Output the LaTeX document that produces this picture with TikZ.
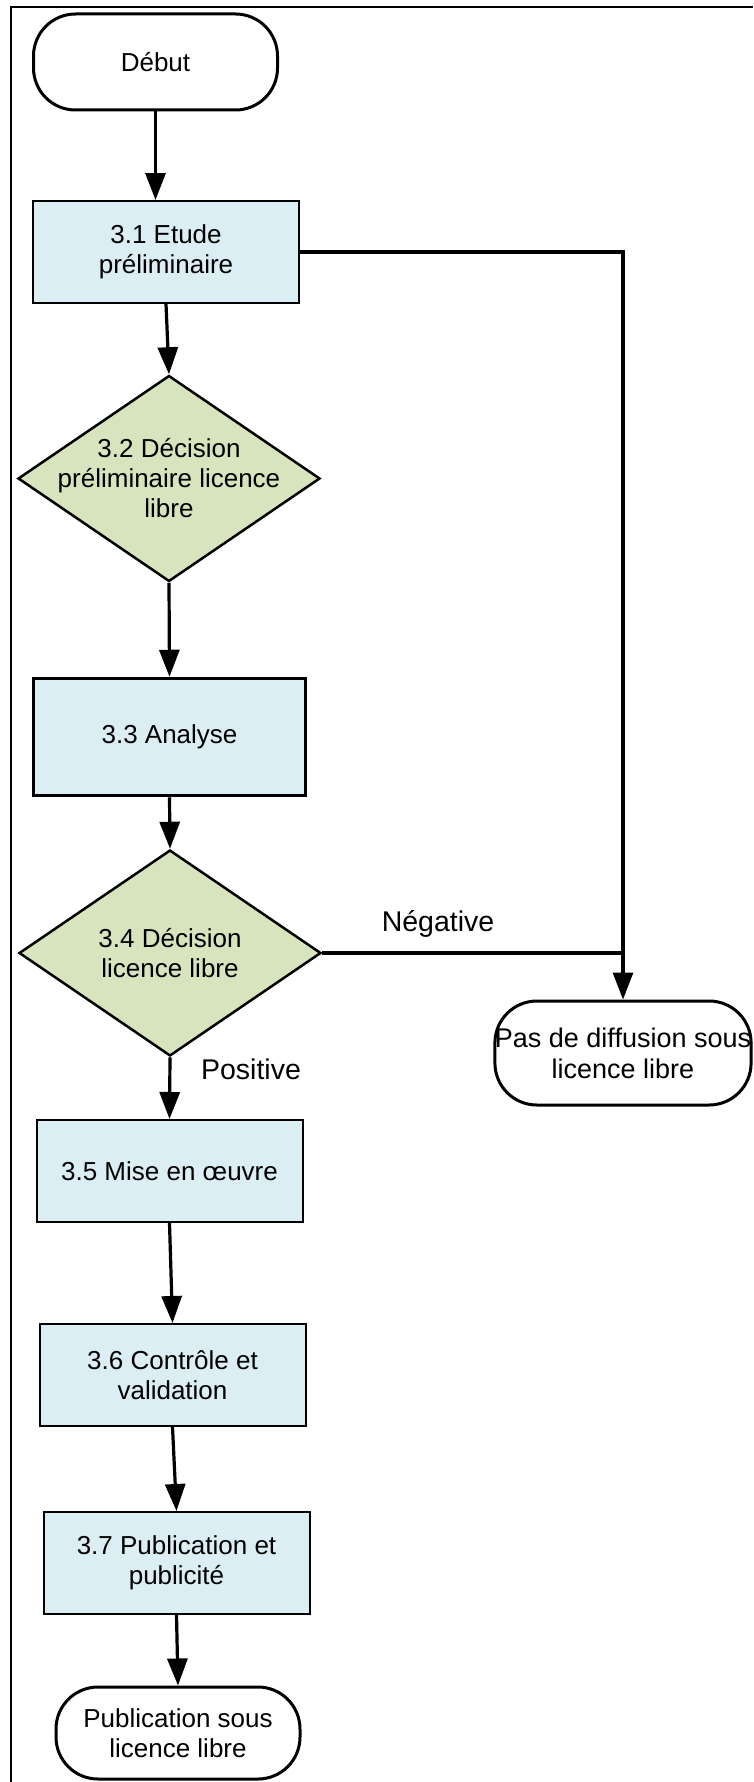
\documentclass[tikz,border=0pt]{standalone}
\usepackage{fontspec}
\setmainfont{Liberation Sans}
\usepackage{xcolor}
\usepackage{tikz}
\usetikzlibrary{arrows.meta,shapes}

\definecolor{bleuclair}{HTML}{DAEEF3}
\definecolor{vertclair}{HTML}{D7E4BD}

\begin{document}
\begin{tikzpicture}[x=1pt,y=-1pt,every node/.style={font=\fontsize{26}{30}\selectfont}]
		\tikzstyle{etape}=[draw=black, line width=2pt, fill=bleuclair, minimum width=266pt, minimum height=102pt, inner sep=0pt, align=center]
		\tikzstyle{etape_forte}=[etape, line width=3.5pt, minimum width=272pt, minimum height=117pt]
		\tikzstyle{decision}=[diamond, draw=black, line width=2.5pt, fill=vertclair, minimum width=302pt, minimum height=206pt, inner sep=0pt]
		\tikzstyle{terminal}=[draw=black, line width=3pt, fill=white, rounded corners=42pt, minimum width=244pt, minimum height=96pt, inner sep=0pt, align=center]
		\tikzstyle{texte}=[align=center, inner sep=0pt]
		\tikzstyle{label_texte}=[texte, font=\fontsize{28.5}{32}\selectfont]
		\tikzstyle{lien}=[line width=3.2pt]
		\tikzstyle{fleche}=[lien, -{Triangle[length=27pt,width=20pt]}]

		\useasboundingbox (0,0) rectangle (753,1782);
		\draw [line width=2pt] (11,1782) -- (11,7) -- (753,7);

		% colonne principale
		\node [terminal] (debut) at (155.5,62) {Début};
		\node [etape] (e31) at (166,252) {3.1 Etude\\préliminaire};
		\node [decision] (d32) at (169,478.5) {};
		\node [texte] (t32) at (d32) {3.2 Décision\\préliminaire licence\\libre};
		\node [etape_forte] (e33) at (169.5,737) {3.3 Analyse};
		\node [decision] (d34) at (170,953) {};
		\node [texte] (t34) at (d34) {3.4 Décision\\licence libre};
		\node [etape] (e35) at (169.5,1171) {3.5 Mise en œuvre};
		\node [etape] (e36) at (172.5,1375) {3.6 Contrôle et\\validation};
		\node [etape] (e37) at (176.5,1563) {3.7 Publication et\\publicité};
		\node [terminal, minimum height=92pt] (fin) at (178,1733) {Publication sous\\licence libre};

		% sortie negative
		\node [terminal, minimum width=256pt, minimum height=104pt, font=\fontsize{27}{31}\selectfont] (pasdiff) at (623,1053) {Pas de diffusion sous\\licence libre};

		\draw [fleche] (debut.south) -- (debut.south |- e31.north);
		\draw [fleche] (e31.south) -- (d32.north);
		\draw [fleche] (d32.south) -- (e33.north);
		\draw [fleche] (e33.south) -- (d34.north);
		\draw [fleche] (d34.south) -- (e35.north);
		\draw [fleche] (e35.south) -- (e36.north);
		\draw [fleche] (e36.south) -- (e37.north);
		\draw [fleche] (e37.south) -- (fin.north);
		\draw [fleche] (e31.east) -| (pasdiff.north);
		\draw [lien] (d34.east) -- (d34.east -| pasdiff.north);

		\node [label_texte] (negative) at (438,924) {Négative};
		\node [label_texte] (positive) at (251,1069) {Positive};
\end{tikzpicture}
\end{document}
